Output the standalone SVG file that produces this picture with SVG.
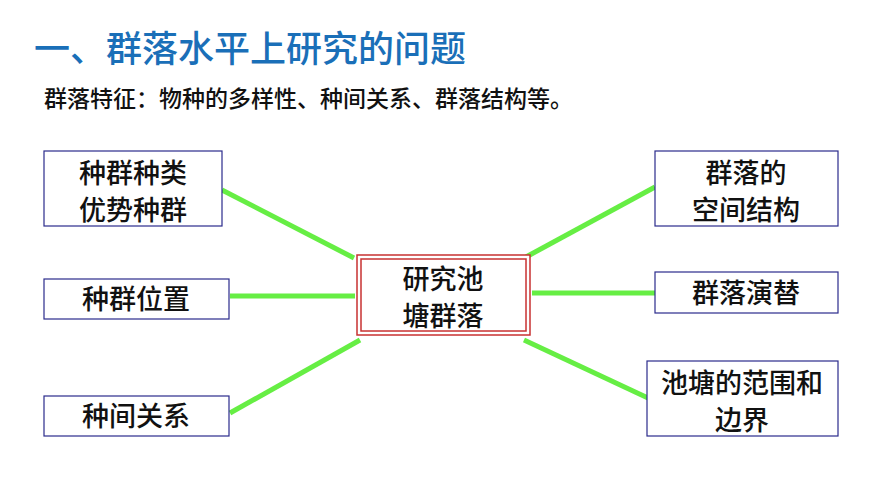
<svg xmlns="http://www.w3.org/2000/svg" width="870" height="486" viewBox="0 0 870 486">
<style>
text{font-family:"Noto Sans CJK SC","Liberation Sans",sans-serif;font-weight:500}
.b{fill:#fff;stroke:#2b2b8c;stroke-width:1.2}
.t{font-size:27px;fill:#111;text-anchor:middle}
.c line{stroke:#66ee44;stroke-width:5}
</style>
<rect width="870" height="486" fill="#fff"/>
<text x="34" y="62" font-size="36" fill="#1a6fb8" font-weight="bold">一、群落水平上研究的问题</text>
<text x="44" y="107" font-size="23" fill="#111" font-weight="bold">群落特征：物种的多样性、种间关系、群落结构等。</text>
<g class="c">
<line x1="222" y1="190" x2="354" y2="258"/>
<line x1="230" y1="296" x2="355" y2="296"/>
<line x1="230" y1="413" x2="360" y2="340"/>
<line x1="526" y1="257" x2="655" y2="187"/>
<line x1="532" y1="293" x2="655" y2="293"/>
<line x1="524" y1="340" x2="648" y2="398"/>
</g>
<g id="center">
<rect x="357" y="255" width="173" height="80" fill="#fff" stroke="#c83232" stroke-width="1.5"/>
<rect x="361" y="259" width="165" height="72" fill="none" stroke="#c83232" stroke-width="1.5"/>
<text class="t" x="443" y="289">研究池</text>
<text class="t" x="443" y="326">塘群落</text>
</g>
<g id="l1"><rect class="b" x="44" y="151" width="178" height="75"/><text class="t" x="133" y="183">种群种类</text><text class="t" x="133" y="220">优势种群</text></g>
<g id="l2"><rect class="b" x="44" y="279" width="185" height="40"/><text class="t" x="136" y="309">种群位置</text></g>
<g id="l3"><rect class="b" x="44" y="396" width="185" height="40"/><text class="t" x="136" y="426">种间关系</text></g>
<g id="r1"><rect class="b" x="655" y="151" width="183" height="75"/><text class="t" x="746" y="183">群落的</text><text class="t" x="746" y="220">空间结构</text></g>
<g id="r2"><rect class="b" x="655" y="272" width="183" height="41"/><text class="t" x="746" y="303">群落演替</text></g>
<g id="r3"><rect class="b" x="647" y="361" width="191" height="75"/><text class="t" x="742" y="393">池塘的范围和</text><text class="t" x="742" y="430">边界</text></g>
</svg>
